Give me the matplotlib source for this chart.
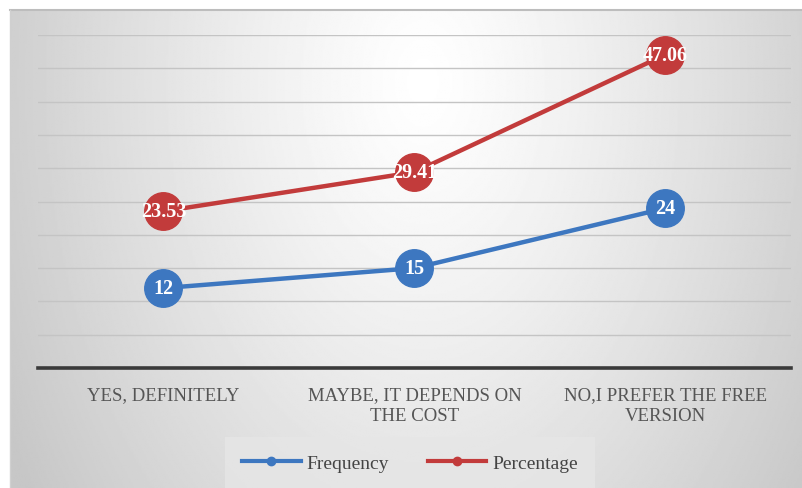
import numpy as np
import matplotlib.pyplot as plt
from matplotlib.lines import Line2D

categories = ["YES, DEFINITELY", "MAYBE, IT DEPENDS ON\nTHE COST", "NO,I PREFER THE FREE\nVERSION"]
frequency = [12, 15, 24]
percentage = [23.53, 29.41, 47.06]
freq_labels = ["12", "15", "24"]
pct_labels = ["23.53", "29.41", "47.06"]

BLUE = "#3D77C0"
RED = "#C23B3B"
FONT = "Liberation Serif"

W, H = 803, 489
fig = plt.figure(figsize=(W / 100, H / 100), dpi=100)
fig.patch.set_facecolor("white")

# chart area with a soft radial gradient
bg = fig.add_axes([10 / W, 0, 1 - 10 / W, 1 - 11 / H])
bg.set_axis_off()
ny, nx = 300, 500
yy, xx = np.mgrid[0:ny, 0:nx]
cx, cy = 0.52 * nx, 0.15 * ny
d = np.sqrt(((xx - cx) / (0.55 * nx)) ** 2 + ((yy - cy) / (1.4 * ny)) ** 2)
shade = 1.0 - 0.2 * np.clip(d, 0, 1.3) ** 1.2
shade = np.clip(shade, 0.78, 1.0)
bg.imshow(shade, cmap="gray", vmin=0, vmax=1, aspect="auto", extent=[0, 1, 0, 1], origin="upper")
bg.plot([0, 1], [1, 1], color="#bdbdbd", lw=1.5, transform=bg.transAxes, clip_on=False)
bg.plot([0, 0], [0, 1], color="#d0d0d0", lw=1.0, transform=bg.transAxes, clip_on=False)
bg.set_xlim(0, 1)
bg.set_ylim(0, 1)

ax = fig.add_axes([38 / W, 1 - 369 / H, (791 - 38) / W, (369 - 36) / H])
ax.patch.set_alpha(0)
x = np.arange(len(categories))
ax.set_xlim(-0.5, len(categories) - 0.5)
ax.set_ylim(0, 50)
ax.set_yticks(np.arange(5, 51, 5))
ax.yaxis.grid(True, color="#c4c4c4", lw=1.0)
ax.set_axisbelow(True)
for s in ["top", "right", "left"]:
    ax.spines[s].set_visible(False)
ax.spines["bottom"].set_color("#3a3a3a")
ax.spines["bottom"].set_linewidth(2.6)
ax.tick_params(axis="y", length=0, labelleft=False)
ax.tick_params(axis="x", length=0, pad=13)
ax.set_xticks(x)
ax.set_xticklabels(categories, fontsize=13.5, color="#555555", family=FONT, linespacing=1.3, va="top")

for vals, labs, col in [(frequency, freq_labels, BLUE), (percentage, pct_labels, RED)]:
    ax.plot(x, vals, color=col, lw=3.2, marker="o", markersize=27,
            markerfacecolor=col, markeredgecolor=col, markeredgewidth=1.0,
            solid_capstyle="round", zorder=3, clip_on=False)
    for xi, v, t in zip(x, vals, labs):
        ax.text(xi, v, t, ha="center", va="center", color="white", fontsize=14.5,
                fontweight="bold", family=FONT, zorder=4)

handles = [
    Line2D([], [], color=BLUE, lw=3, marker="o", markersize=6),
    Line2D([], [], color=RED, lw=3, marker="o", markersize=6),
]
leg = fig.legend(handles, ["Frequency", "Percentage"], loc="center",
                 bbox_to_anchor=(410 / W, 1 - 464 / H), ncol=2, frameon=True,
                 handlelength=3.0, handletextpad=0.3, columnspacing=2.0,
                 prop={"family": FONT, "size": 14})
leg.get_frame().set_facecolor("#e6e6e6")
leg.get_frame().set_edgecolor("none")
leg.get_frame().set_boxstyle("square", pad=0.5)
for t in leg.get_texts():
    t.set_color("#444444")

fig.savefig("out.png", dpi=100)
